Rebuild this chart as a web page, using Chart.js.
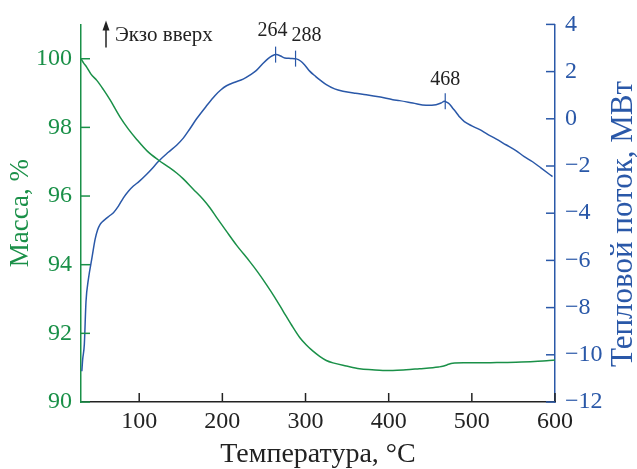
<!DOCTYPE html>
<html lang="ru">
  <head>
    <meta charset="UTF-8" />
    <title>ТГ / ДСК</title>
    <style>
      body { margin: 0; background: #fff; }
      #wrap { width: 637px; height: 469px; }
    </style>
  </head>
  <body>
    <div id="wrap">
      <canvas id="myChart" width="637" height="469"></canvas>
    </div>

    <script src="https://cdn.jsdelivr.net/npm/chart.js"></script>
    <script>
      // Масса, %
      const massTemp = [30, 33, 37, 42, 49, 57, 65, 77, 87, 97,
        110, 123, 135, 145, 153, 165, 177, 185, 193, 205,
        217, 233, 243, 253, 263, 273, 283, 293, 301, 309,
        317, 325, 333, 349, 365, 380, 393, 405, 421, 437,
        453, 460, 465, 470, 477, 490, 509, 530, 553, 575,
        593, 600];
      const massVal = [100, 99.88, 99.75, 99.55, 99.37, 99.1, 98.8, 98.3, 97.95, 97.65,
        97.3, 97.05, 96.85, 96.67, 96.5, 96.2, 95.9, 95.66, 95.38, 94.97,
        94.57, 94.09, 93.77, 93.42, 93.05, 92.65, 92.25, 91.88, 91.66, 91.48,
        91.33, 91.21, 91.14, 91.05, 90.97, 90.94, 90.92, 90.92, 90.94, 90.97,
        91.0, 91.02, 91.04, 91.08, 91.13, 91.14, 91.14, 91.15, 91.16, 91.18,
        91.21, 91.22];

      // Тепловой поток, мВт
      const heatTemp = [31, 32, 34, 36, 39, 43, 47, 50, 53, 56,
        59, 64, 69, 75, 81, 87, 93, 100, 109, 117,
        123, 135, 145, 153, 161, 169, 181, 191, 198, 205,
        215, 225, 233, 241, 249, 255, 260, 265, 270, 275,
        282, 289, 294, 299, 305, 312, 318, 325, 335, 345,
        360, 373, 390, 405, 413, 429, 445, 457, 463, 467,
        470, 473, 477, 481, 486, 491, 500, 509, 519, 529,
        541, 553, 563, 573, 583, 594, 597];
      const heatVal = [-10.7, -10.2, -9.56, -7.75, -6.77, -5.93, -5.1, -4.7, -4.47, -4.35,
        -4.26, -4.12, -3.98, -3.7, -3.35, -3.07, -2.85, -2.65, -2.35, -2.05,
        -1.81, -1.42, -1.12, -0.82, -0.42, 0.0, 0.55, 0.98, 1.22, 1.4,
        1.55, 1.68, 1.85, 2.05, 2.35, 2.55, 2.67, 2.72, 2.66, 2.58,
        2.56, 2.54, 2.45, 2.28, 2.02, 1.8, 1.63, 1.45, 1.27, 1.17,
        1.08, 1.02, 0.92, 0.81, 0.77, 0.67, 0.57, 0.6, 0.67, 0.74,
        0.7, 0.63, 0.45, 0.28, 0.05, -0.12, -0.3, -0.45, -0.66, -0.85,
        -1.1, -1.35, -1.6, -1.82, -2.08, -2.37, -2.45];

      // пики
      const peakTemp = [264, 288, 468];
      const peakHeat = [2.72, 2.55, 0.74];
      const peakLabels = ["264", "288", "468"];

      // подписи делений
      const xTicks = [100, 200, 300, 400, 500, 600];
      const massTicks = [90, 92, 94, 96, 98, 100];
      const heatTicks = [-12, -10, -8, -6, -4, -2, 0, 2, 4];

      const GREEN = "#1a9048";
      const BLUE = "#2a58a8";
      const DARK = "#222";
      const SERIF = "'Liberation Serif', 'DejaVu Serif', serif";

      const toPoints = (xs, ys) => xs.map((x, i) => ({ x: x, y: ys[i] }));

      // деления внутрь, правая подпись оси и подписи пиков
      const extras = {
        id: "extras",
        afterDraw(chart) {
          const ctx = chart.ctx;
          const sx = chart.scales.x;
          const sm = chart.scales.yMass;
          const sh = chart.scales.yHeat;
          const area = chart.chartArea;
          ctx.save();
          ctx.lineWidth = 1.5;

          ctx.strokeStyle = DARK;
          xTicks.forEach((v) => {
            const px = sx.getPixelForValue(v);
            ctx.beginPath();
            ctx.moveTo(px, area.bottom);
            ctx.lineTo(px, area.bottom - 9);
            ctx.stroke();
          });
          ctx.strokeStyle = GREEN;
          massTicks.forEach((v) => {
            const py = sm.getPixelForValue(v);
            ctx.beginPath();
            ctx.moveTo(area.left, py);
            ctx.lineTo(area.left + 9, py);
            ctx.stroke();
          });
          ctx.strokeStyle = BLUE;
          heatTicks.forEach((v) => {
            const py = sh.getPixelForValue(v);
            ctx.beginPath();
            ctx.moveTo(area.right, py);
            ctx.lineTo(area.right - 9, py);
            ctx.stroke();
          });

          // подпись правой оси (снизу вверх)
          ctx.save();
          ctx.translate(624, 224);
          ctx.rotate(-Math.PI / 2);
          ctx.fillStyle = BLUE;
          ctx.font = "31px " + SERIF;
          ctx.textAlign = "center";
          ctx.textBaseline = "middle";
          ctx.fillText("Тепловой поток, МВт", 0, 0);
          ctx.restore();

          // пики
          const labelShift = [-3, 11, 0];
          const labelRise = [24, 23, 22];
          ctx.lineWidth = 1.2;
          ctx.font = "20px " + SERIF;
          ctx.textAlign = "center";
          ctx.textBaseline = "middle";
          peakTemp.forEach((t, i) => {
            const px = sx.getPixelForValue(t);
            const py = sh.getPixelForValue(peakHeat[i]);
            ctx.strokeStyle = BLUE;
            ctx.beginPath();
            ctx.moveTo(px, py - 8);
            ctx.lineTo(px, py + 8);
            ctx.stroke();
            ctx.fillStyle = DARK;
            ctx.fillText(peakLabels[i], px + labelShift[i], py - labelRise[i]);
          });

          // Экзо вверх
          const ax = area.left + 25;
          ctx.strokeStyle = DARK;
          ctx.fillStyle = DARK;
          ctx.lineWidth = 1.5;
          ctx.beginPath();
          ctx.moveTo(ax, area.top + 23);
          ctx.lineTo(ax, area.top + 2);
          ctx.stroke();
          ctx.beginPath();
          ctx.moveTo(ax, area.top - 4);
          ctx.lineTo(ax - 3.5, area.top + 6);
          ctx.lineTo(ax + 3.5, area.top + 6);
          ctx.closePath();
          ctx.fill();
          ctx.font = "21px " + SERIF;
          ctx.textAlign = "left";
          ctx.fillText("Экзо вверх", ax + 9, area.top + 11);
          ctx.restore();
        },
      };

      const ctx = document.getElementById("myChart").getContext("2d");
      new Chart(ctx, {
        type: "line",
        data: {
          datasets: [
            {
              label: "Масса",
              data: toPoints(massTemp, massVal),
              yAxisID: "yMass",
              borderColor: GREEN,
              borderWidth: 1.5,
              pointRadius: 0,
              cubicInterpolationMode: "monotone",
            },
            {
              label: "Тепловой поток",
              data: toPoints(heatTemp, heatVal),
              yAxisID: "yHeat",
              borderColor: BLUE,
              borderWidth: 1.5,
              pointRadius: 0,
              cubicInterpolationMode: "monotone",
            },
          ],
        },
        options: {
          responsive: false,
          animation: false,
          layout: { padding: { top: 20 } },
          plugins: { legend: { display: false }, tooltip: { enabled: false } },
          scales: {
            x: {
              type: "linear",
              min: 30,
              max: 600,
              afterBuildTicks: (s) => { s.ticks = xTicks.map((v) => ({ value: v })); },
              afterFit: (s) => { s.height = 67; },
              border: { color: DARK, width: 1.5 },
              grid: { drawOnChartArea: false, drawTicks: false },
              ticks: { color: DARK, font: { family: SERIF, size: 24 }, padding: 5, maxRotation: 0 },
              title: {
                display: true,
                text: "Температура, °C",
                color: DARK,
                font: { family: SERIF, size: 28, lineHeight: 1 },
                padding: { top: 0, bottom: 0 },
              },
            },
            yMass: {
              position: "left",
              min: 90,
              max: 101,
              afterBuildTicks: (s) => { s.ticks = massTicks.map((v) => ({ value: v })); },
              afterFit: (s) => { s.width = 81; },
              border: { color: GREEN, width: 1.5 },
              grid: { drawOnChartArea: false, drawTicks: false },
              ticks: { color: GREEN, font: { family: SERIF, size: 24 }, padding: 9 },
              title: {
                display: true,
                text: "Масса, %",
                color: GREEN,
                font: { family: SERIF, size: 27, lineHeight: 1 },
                padding: { top: 7, bottom: 0 },
              },
            },
            yHeat: {
              position: "right",
              min: -12,
              max: 4,
              afterBuildTicks: (s) => { s.ticks = heatTicks.map((v) => ({ value: v })); },
              afterFit: (s) => { s.width = 82; },
              border: { color: BLUE, width: 1.5 },
              grid: { drawOnChartArea: false, drawTicks: false },
              ticks: {
                color: BLUE,
                font: { family: SERIF, size: 24 },
                padding: 10,
                callback: (v) => String(v).replace("-", "\u2212"),
              },
              title: { display: false },
            },
          },
        },
        plugins: [extras],
      });
    </script>
  </body>
</html>
